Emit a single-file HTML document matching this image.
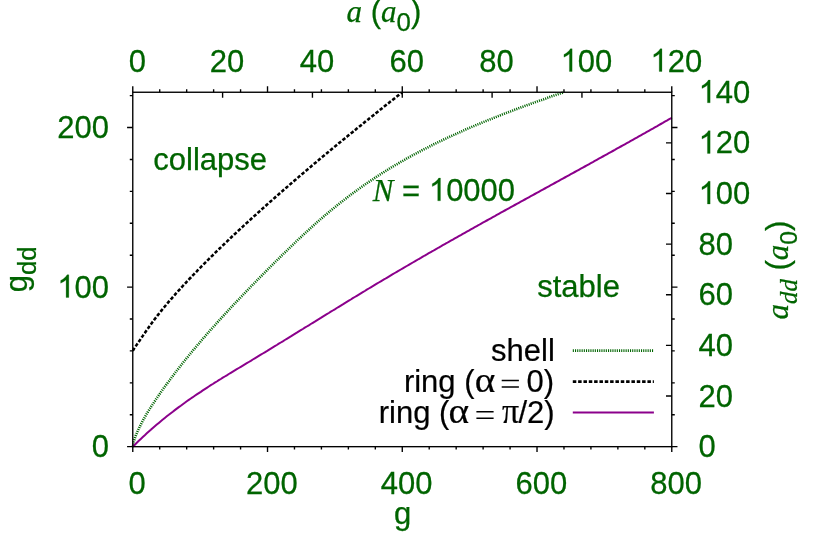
<!DOCTYPE html>
<html><head><meta charset="utf-8"><title>Stability diagram</title>
<style>html,body{margin:0;padding:0;background:#fff}svg{display:block;will-change:transform}</style>
</head><body>
<svg width="830" height="536" viewBox="0 0 830 536">
<rect width="830" height="536" fill="#fff"/>
<path d="M132.8,446.7 L133.8,441.4 L134.8,438.3 L135.8,435.6 L136.8,433.2 L137.8,430.9 L138.8,428.7 L139.8,426.6 L140.8,424.6 L141.8,422.6 L142.8,420.7 L143.8,418.9 L144.8,417.1 L145.8,415.4 L146.8,413.7 L147.8,412.0 L148.8,410.4 L149.8,408.8 L150.8,407.2 L151.8,405.6 L152.8,404.1 L153.8,402.6 L154.8,401.1 L155.8,399.6 L156.8,398.1 L157.8,396.7 L158.8,395.2 L159.8,393.8 L160.8,392.4 L161.8,390.9 L162.8,389.5 L163.8,388.1 L164.8,386.7 L165.8,385.4 L166.8,384.0 L167.8,382.6 L168.8,381.3 L169.8,379.9 L170.8,378.6 L171.8,377.2 L172.8,375.9 L173.8,374.6 L174.8,373.3 L175.8,371.9 L176.8,370.6 L177.8,369.4 L178.8,368.1 L179.8,366.8 L180.8,365.5 L181.8,364.2 L182.8,363.0 L183.8,361.7 L184.8,360.5 L185.8,359.2 L186.8,358.0 L187.8,356.8 L188.8,355.5 L189.8,354.3 L190.8,353.1 L191.8,351.9 L192.8,350.7 L193.8,349.5 L194.8,348.3 L195.8,347.1 L196.8,345.9 L197.8,344.7 L198.8,343.6 L199.8,342.4 L200.8,341.2 L201.8,340.0 L202.8,338.9 L203.8,337.7 L204.8,336.6 L205.8,335.4 L206.8,334.3 L207.8,333.1 L208.8,332.0 L209.8,330.9 L210.8,329.7 L211.8,328.6 L212.8,327.5 L213.8,326.4 L214.8,325.3 L215.8,324.1 L216.8,323.0 L217.8,321.9 L218.8,320.8 L219.8,319.7 L220.8,318.6 L221.8,317.5 L222.8,316.4 L223.8,315.3 L224.8,314.2 L225.8,313.2 L226.8,312.1 L227.8,311.0 L228.8,309.9 L229.8,308.8 L230.8,307.8 L231.8,306.7 L232.8,305.6 L233.8,304.6 L234.8,303.5 L235.8,302.4 L236.8,301.4 L237.8,300.3 L238.8,299.3 L239.8,298.2 L240.8,297.1 L241.8,296.1 L242.8,295.1 L243.8,294.0 L244.8,293.0 L245.8,291.9 L246.8,290.9 L247.8,289.8 L248.8,288.8 L249.8,287.8 L250.8,286.7 L251.8,285.7 L252.8,284.7 L253.8,283.7 L254.8,282.6 L255.8,281.6 L256.8,280.6 L257.8,279.6 L258.8,278.5 L259.8,277.5 L260.8,276.5 L261.8,275.5 L262.8,274.5 L263.8,273.5 L264.8,272.5 L265.8,271.5 L266.8,270.4 L267.8,269.4 L268.8,268.4 L269.8,267.4 L270.8,266.4 L271.8,265.4 L272.8,264.4 L273.8,263.4 L274.8,262.4 L275.8,261.4 L276.8,260.5 L277.8,259.5 L278.8,258.5 L279.8,257.5 L280.8,256.5 L281.8,255.5 L282.8,254.5 L283.8,253.5 L284.8,252.6 L285.8,251.6 L286.8,250.6 L287.8,249.6 L288.8,248.7 L289.8,247.7 L290.8,246.7 L291.8,245.8 L292.8,244.8 L293.8,243.8 L294.8,242.9 L295.8,241.9 L296.8,241.0 L297.8,240.0 L298.8,239.1 L299.8,238.1 L300.8,237.2 L301.8,236.2 L302.8,235.3 L303.8,234.4 L304.8,233.4 L305.8,232.5 L306.8,231.6 L307.8,230.7 L308.8,229.8 L309.8,228.8 L310.8,227.9 L311.8,227.0 L312.8,226.1 L313.8,225.2 L314.8,224.3 L315.8,223.4 L316.8,222.5 L317.8,221.7 L318.8,220.8 L319.8,219.9 L320.8,219.0 L321.8,218.2 L322.8,217.3 L323.8,216.4 L324.8,215.6 L325.8,214.7 L326.8,213.9 L327.8,213.0 L328.8,212.2 L329.8,211.4 L330.8,210.5 L331.8,209.7 L332.8,208.9 L333.8,208.1 L334.8,207.2 L335.8,206.4 L336.8,205.6 L337.8,204.8 L338.8,204.0 L339.8,203.2 L340.8,202.4 L341.8,201.7 L342.8,200.9 L343.8,200.1 L344.8,199.3 L345.8,198.6 L346.8,197.8 L347.8,197.0 L348.8,196.3 L349.8,195.5 L350.8,194.8 L351.8,194.0 L352.8,193.3 L353.8,192.6 L354.8,191.8 L355.8,191.1 L356.8,190.4 L357.8,189.7 L358.8,188.9 L359.8,188.2 L360.8,187.5 L361.8,186.8 L362.8,186.1 L363.8,185.4 L364.8,184.7 L365.8,184.0 L366.8,183.3 L367.8,182.6 L368.8,182.0 L369.8,181.3 L370.8,180.6 L371.8,179.9 L372.8,179.3 L373.8,178.6 L374.8,177.9 L375.8,177.3 L376.8,176.6 L377.8,176.0 L378.8,175.3 L379.8,174.7 L380.8,174.1 L381.8,173.4 L382.8,172.8 L383.8,172.2 L384.8,171.5 L385.8,170.9 L386.8,170.3 L387.8,169.7 L388.8,169.1 L389.8,168.4 L390.8,167.8 L391.8,167.2 L392.8,166.6 L393.8,166.0 L394.8,165.4 L395.8,164.8 L396.8,164.3 L397.8,163.7 L398.8,163.1 L399.8,162.5 L400.8,161.9 L401.8,161.4 L402.8,160.8 L403.8,160.2 L404.8,159.7 L405.8,159.1 L406.8,158.5 L407.8,158.0 L408.8,157.4 L409.8,156.9 L410.8,156.3 L411.8,155.8 L412.8,155.2 L413.8,154.7 L414.8,154.1 L415.8,153.6 L416.8,153.1 L417.8,152.5 L418.8,152.0 L419.8,151.5 L420.8,151.0 L421.8,150.4 L422.8,149.9 L423.8,149.4 L424.8,148.9 L425.8,148.4 L426.8,147.9 L427.8,147.4 L428.8,146.8 L429.8,146.3 L430.8,145.8 L431.8,145.3 L432.8,144.8 L433.8,144.3 L434.8,143.9 L435.8,143.4 L436.8,142.9 L437.8,142.4 L438.8,141.9 L439.8,141.4 L440.8,140.9 L441.8,140.5 L442.8,140.0 L443.8,139.5 L444.8,139.0 L445.8,138.6 L446.8,138.1 L447.8,137.6 L448.8,137.2 L449.8,136.7 L450.8,136.2 L451.8,135.8 L452.8,135.3 L453.8,134.9 L454.8,134.4 L455.8,134.0 L456.8,133.5 L457.8,133.1 L458.8,132.6 L459.8,132.2 L460.8,131.7 L461.8,131.3 L462.8,130.8 L463.8,130.4 L464.8,130.0 L465.8,129.5 L466.8,129.1 L467.8,128.6 L468.8,128.2 L469.8,127.8 L470.8,127.4 L471.8,126.9 L472.8,126.5 L473.8,126.1 L474.8,125.7 L475.8,125.2 L476.8,124.8 L477.8,124.4 L478.8,124.0 L479.8,123.6 L480.8,123.1 L481.8,122.7 L482.8,122.3 L483.8,121.9 L484.8,121.5 L485.8,121.1 L486.8,120.7 L487.8,120.3 L488.8,119.9 L489.8,119.5 L490.8,119.1 L491.8,118.7 L492.8,118.3 L493.8,117.9 L494.8,117.5 L495.8,117.1 L496.8,116.7 L497.8,116.3 L498.8,115.9 L499.8,115.5 L500.8,115.1 L501.8,114.7 L502.8,114.3 L503.8,113.9 L504.8,113.6 L505.8,113.2 L506.8,112.8 L507.8,112.4 L508.8,112.0 L509.8,111.6 L510.8,111.3 L511.8,110.9 L512.8,110.5 L513.8,110.1 L514.8,109.7 L515.8,109.4 L516.8,109.0 L517.8,108.6 L518.8,108.2 L519.8,107.9 L520.8,107.5 L521.8,107.1 L522.8,106.8 L523.8,106.4 L524.8,106.0 L525.8,105.7 L526.8,105.3 L527.8,104.9 L528.8,104.6 L529.8,104.2 L530.8,103.8 L531.8,103.5 L532.8,103.1 L533.8,102.7 L534.8,102.4 L535.8,102.0 L536.8,101.7 L537.8,101.3 L538.8,100.9 L539.8,100.6 L540.8,100.2 L541.8,99.9 L542.8,99.5 L543.8,99.2 L544.8,98.8 L545.8,98.5 L546.8,98.1 L547.8,97.7 L548.8,97.4 L549.8,97.0 L550.8,96.7 L551.8,96.3 L552.8,96.0 L553.8,95.6 L554.8,95.3 L555.8,94.9 L556.8,94.6 L557.8,94.3 L558.8,93.9 L559.8,93.6 L560.8,93.2 L561.8,92.9 L562.8,92.5 L563.4,92.3" fill="none" stroke="#006400" stroke-width="2.6" stroke-dasharray="1.08,1.12"/>
<path d="M132.8,350.9 L133.8,349.1 L134.8,347.6 L135.8,346.1 L136.8,344.6 L137.8,343.2 L138.8,341.7 L139.8,340.3 L140.8,338.8 L141.8,337.3 L142.8,335.9 L143.8,334.4 L144.8,333.0 L145.8,331.5 L146.8,330.1 L147.8,328.7 L148.8,327.2 L149.8,325.8 L150.8,324.4 L151.8,323.1 L152.8,321.7 L153.8,320.4 L154.8,319.0 L155.8,317.7 L156.8,316.4 L157.8,315.1 L158.8,313.9 L159.8,312.6 L160.8,311.4 L161.8,310.1 L162.8,308.9 L163.8,307.7 L164.8,306.5 L165.8,305.3 L166.8,304.1 L167.8,302.9 L168.8,301.7 L169.8,300.6 L170.8,299.4 L171.8,298.3 L172.8,297.1 L173.8,296.0 L174.8,294.9 L175.8,293.7 L176.8,292.6 L177.8,291.5 L178.8,290.4 L179.8,289.3 L180.8,288.2 L181.8,287.1 L182.8,286.0 L183.8,284.9 L184.8,283.9 L185.8,282.8 L186.8,281.7 L187.8,280.7 L188.8,279.6 L189.8,278.5 L190.8,277.5 L191.8,276.4 L192.8,275.4 L193.8,274.4 L194.8,273.3 L195.8,272.3 L196.8,271.3 L197.8,270.2 L198.8,269.2 L199.8,268.2 L200.8,267.2 L201.8,266.1 L202.8,265.1 L203.8,264.1 L204.8,263.1 L205.8,262.1 L206.8,261.1 L207.8,260.1 L208.8,259.1 L209.8,258.1 L210.8,257.1 L211.8,256.1 L212.8,255.2 L213.8,254.2 L214.8,253.2 L215.8,252.2 L216.8,251.2 L217.8,250.3 L218.8,249.3 L219.8,248.3 L220.8,247.4 L221.8,246.4 L222.8,245.4 L223.8,244.5 L224.8,243.5 L225.8,242.5 L226.8,241.6 L227.8,240.6 L228.8,239.7 L229.8,238.7 L230.8,237.8 L231.8,236.8 L232.8,235.9 L233.8,235.0 L234.8,234.0 L235.8,233.1 L236.8,232.1 L237.8,231.2 L238.8,230.3 L239.8,229.4 L240.8,228.4 L241.8,227.5 L242.8,226.6 L243.8,225.6 L244.8,224.7 L245.8,223.8 L246.8,222.9 L247.8,222.0 L248.8,221.0 L249.8,220.1 L250.8,219.2 L251.8,218.3 L252.8,217.4 L253.8,216.5 L254.8,215.6 L255.8,214.7 L256.8,213.8 L257.8,212.9 L258.8,212.0 L259.8,211.1 L260.8,210.2 L261.8,209.3 L262.8,208.4 L263.8,207.5 L264.8,206.6 L265.8,205.7 L266.8,204.8 L267.8,203.9 L268.8,203.0 L269.8,202.1 L270.8,201.2 L271.8,200.4 L272.8,199.5 L273.8,198.6 L274.8,197.7 L275.8,196.8 L276.8,195.9 L277.8,195.1 L278.8,194.2 L279.8,193.3 L280.8,192.4 L281.8,191.6 L282.8,190.7 L283.8,189.8 L284.8,189.0 L285.8,188.1 L286.8,187.2 L287.8,186.4 L288.8,185.5 L289.8,184.6 L290.8,183.8 L291.8,182.9 L292.8,182.0 L293.8,181.2 L294.8,180.3 L295.8,179.5 L296.8,178.6 L297.8,177.7 L298.8,176.9 L299.8,176.0 L300.8,175.2 L301.8,174.3 L302.8,173.5 L303.8,172.6 L304.8,171.8 L305.8,170.9 L306.8,170.1 L307.8,169.2 L308.8,168.4 L309.8,167.5 L310.8,166.7 L311.8,165.8 L312.8,165.0 L313.8,164.1 L314.8,163.3 L315.8,162.5 L316.8,161.6 L317.8,160.8 L318.8,159.9 L319.8,159.1 L320.8,158.3 L321.8,157.4 L322.8,156.6 L323.8,155.8 L324.8,154.9 L325.8,154.1 L326.8,153.3 L327.8,152.4 L328.8,151.6 L329.8,150.8 L330.8,149.9 L331.8,149.1 L332.8,148.3 L333.8,147.5 L334.8,146.6 L335.8,145.8 L336.8,145.0 L337.8,144.2 L338.8,143.3 L339.8,142.5 L340.8,141.7 L341.8,140.9 L342.8,140.0 L343.8,139.2 L344.8,138.4 L345.8,137.6 L346.8,136.8 L347.8,135.9 L348.8,135.1 L349.8,134.3 L350.8,133.5 L351.8,132.7 L352.8,131.9 L353.8,131.1 L354.8,130.2 L355.8,129.4 L356.8,128.6 L357.8,127.8 L358.8,127.0 L359.8,126.2 L360.8,125.4 L361.8,124.6 L362.8,123.8 L363.8,122.9 L364.8,122.1 L365.8,121.3 L366.8,120.5 L367.8,119.7 L368.8,118.9 L369.8,118.1 L370.8,117.3 L371.8,116.5 L372.8,115.7 L373.8,114.9 L374.8,114.1 L375.8,113.3 L376.8,112.5 L377.8,111.7 L378.8,110.9 L379.8,110.1 L380.8,109.3 L381.8,108.5 L382.8,107.7 L383.8,106.9 L384.8,106.1 L385.8,105.3 L386.8,104.5 L387.8,103.7 L388.8,102.9 L389.8,102.1 L390.8,101.3 L391.8,100.6 L392.8,99.8 L393.8,99.0 L394.8,98.2 L395.8,97.4 L396.8,96.6 L397.8,95.8 L398.8,95.0 L399.8,94.2 L400.8,93.4 L401.8,92.7 L401.8,92.6" fill="none" stroke="#000" stroke-width="2.55" stroke-dasharray="3.5,1.83"/>
<path d="M132.8,446.7 L134.8,444.7 L136.8,442.7 L138.8,440.8 L140.8,438.9 L142.8,437.0 L144.8,435.2 L146.8,433.3 L148.8,431.5 L150.8,429.8 L152.8,428.0 L154.8,426.3 L156.8,424.6 L158.8,422.9 L160.8,421.2 L162.8,419.6 L164.8,417.9 L166.8,416.3 L168.8,414.8 L170.8,413.2 L172.8,411.7 L174.8,410.1 L176.8,408.6 L178.8,407.1 L180.8,405.7 L182.8,404.2 L184.8,402.8 L186.8,401.3 L188.8,399.9 L190.8,398.5 L192.8,397.2 L194.8,395.8 L196.8,394.4 L198.8,393.1 L200.8,391.8 L202.8,390.4 L204.8,389.1 L206.8,387.8 L208.8,386.5 L210.8,385.2 L212.8,384.0 L214.8,382.7 L216.8,381.5 L218.8,380.2 L220.8,379.0 L222.8,377.7 L224.8,376.5 L226.8,375.3 L228.8,374.0 L230.8,372.8 L232.8,371.6 L234.8,370.4 L236.8,369.2 L238.8,368.0 L240.8,366.8 L242.8,365.6 L244.8,364.4 L246.8,363.2 L248.8,362.0 L250.8,360.8 L252.8,359.5 L254.8,358.3 L256.8,357.1 L258.8,355.9 L260.8,354.7 L262.8,353.5 L264.8,352.3 L266.8,351.1 L268.8,349.8 L270.8,348.6 L272.8,347.4 L274.8,346.2 L276.8,345.0 L278.8,343.7 L280.8,342.5 L282.8,341.3 L284.8,340.0 L286.8,338.8 L288.8,337.6 L290.8,336.4 L292.8,335.1 L294.8,333.9 L296.8,332.7 L298.8,331.4 L300.8,330.2 L302.8,329.0 L304.8,327.7 L306.8,326.5 L308.8,325.3 L310.8,324.0 L312.8,322.8 L314.8,321.6 L316.8,320.3 L318.8,319.1 L320.8,317.9 L322.8,316.6 L324.8,315.4 L326.8,314.2 L328.8,313.0 L330.8,311.7 L332.8,310.5 L334.8,309.3 L336.8,308.0 L338.8,306.8 L340.8,305.6 L342.8,304.4 L344.8,303.1 L346.8,301.9 L348.8,300.7 L350.8,299.5 L352.8,298.2 L354.8,297.0 L356.8,295.8 L358.8,294.6 L360.8,293.4 L362.8,292.2 L364.8,291.0 L366.8,289.7 L368.8,288.5 L370.8,287.3 L372.8,286.1 L374.8,284.9 L376.8,283.7 L378.8,282.5 L380.8,281.3 L382.8,280.1 L384.8,279.0 L386.8,277.8 L388.8,276.6 L390.8,275.4 L392.8,274.2 L394.8,273.0 L396.8,271.8 L398.8,270.7 L400.8,269.5 L402.8,268.3 L404.8,267.2 L406.8,266.0 L408.8,264.8 L410.8,263.7 L412.8,262.5 L414.8,261.3 L416.8,260.2 L418.8,259.0 L420.8,257.9 L422.8,256.7 L424.8,255.5 L426.8,254.4 L428.8,253.2 L430.8,252.1 L432.8,251.0 L434.8,249.8 L436.8,248.7 L438.8,247.5 L440.8,246.4 L442.8,245.2 L444.8,244.1 L446.8,243.0 L448.8,241.8 L450.8,240.7 L452.8,239.6 L454.8,238.4 L456.8,237.3 L458.8,236.2 L460.8,235.1 L462.8,233.9 L464.8,232.8 L466.8,231.7 L468.8,230.6 L470.8,229.4 L472.8,228.3 L474.8,227.2 L476.8,226.1 L478.8,225.0 L480.8,223.8 L482.8,222.7 L484.8,221.6 L486.8,220.5 L488.8,219.4 L490.8,218.3 L492.8,217.2 L494.8,216.1 L496.8,214.9 L498.8,213.8 L500.8,212.7 L502.8,211.6 L504.8,210.5 L506.8,209.4 L508.8,208.3 L510.8,207.2 L512.8,206.1 L514.8,205.0 L516.8,203.9 L518.8,202.8 L520.8,201.7 L522.8,200.6 L524.8,199.5 L526.8,198.4 L528.8,197.3 L530.8,196.2 L532.8,195.1 L534.8,194.0 L536.8,192.9 L538.8,191.8 L540.8,190.7 L542.8,189.6 L544.8,188.5 L546.8,187.4 L548.8,186.3 L550.8,185.2 L552.8,184.1 L554.8,183.0 L556.8,181.9 L558.8,180.8 L560.8,179.7 L562.8,178.6 L564.8,177.5 L566.8,176.4 L568.8,175.3 L570.8,174.2 L572.8,173.1 L574.8,172.0 L576.8,170.9 L578.8,169.8 L580.8,168.7 L582.8,167.6 L584.8,166.5 L586.8,165.4 L588.8,164.3 L590.8,163.2 L592.8,162.1 L594.8,160.9 L596.8,159.8 L598.8,158.7 L600.8,157.6 L602.8,156.5 L604.8,155.4 L606.8,154.3 L608.8,153.2 L610.8,152.1 L612.8,151.0 L614.8,149.9 L616.8,148.7 L618.8,147.6 L620.8,146.5 L622.8,145.4 L624.8,144.3 L626.8,143.2 L628.8,142.1 L630.8,140.9 L632.8,139.8 L634.8,138.7 L636.8,137.6 L638.8,136.4 L640.8,135.3 L642.8,134.2 L644.8,133.1 L646.8,131.9 L648.8,130.8 L650.8,129.7 L652.8,128.6 L654.8,127.4 L656.8,126.3 L658.8,125.1 L660.8,124.0 L662.8,122.9 L664.8,121.7 L666.8,120.6 L668.8,119.4 L670.8,118.3 L671.8,117.7" fill="none" stroke="#8b008b" stroke-width="2"/>
<g stroke="#000" stroke-width="1.37" fill="none">
<rect x="132.77" y="92.25" width="539.0" height="354.42"/>
<path d="M132.77,446.67 v5.4 M132.77,92.25 v-5.9 M159.72,446.67 v2.9 M159.72,92.25 v-3.1 M186.67,446.67 v2.9 M186.67,92.25 v-3.1 M213.62,446.67 v2.9 M213.62,92.25 v-3.1 M240.57,446.67 v2.9 M240.57,92.25 v-3.1 M267.52,446.67 v5.4 M267.52,92.25 v-5.9 M294.47,446.67 v2.9 M294.47,92.25 v-3.1 M321.42,446.67 v2.9 M321.42,92.25 v-3.1 M348.37,446.67 v2.9 M348.37,92.25 v-3.1 M375.32,446.67 v2.9 M375.32,92.25 v-3.1 M402.27,446.67 v5.4 M402.27,92.25 v-5.9 M429.22,446.67 v2.9 M429.22,92.25 v-3.1 M456.17,446.67 v2.9 M456.17,92.25 v-3.1 M483.12,446.67 v2.9 M483.12,92.25 v-3.1 M510.07,446.67 v2.9 M510.07,92.25 v-3.1 M537.02,446.67 v5.4 M537.02,92.25 v-5.9 M563.97,446.67 v2.9 M563.97,92.25 v-3.1 M590.92,446.67 v2.9 M590.92,92.25 v-3.1 M617.87,446.67 v2.9 M617.87,92.25 v-3.1 M644.82,446.67 v2.9 M644.82,92.25 v-3.1 M671.77,446.67 v5.4 M671.77,92.25 v-5.9 M132.77,446.67 h-5.7 M671.77,446.67 h5.7 M132.77,414.76 h-3.0 M671.77,414.76 h3.0 M132.77,382.85 h-3.0 M671.77,382.85 h3.0 M132.77,350.93 h-3.0 M671.77,350.93 h3.0 M132.77,319.02 h-3.0 M671.77,319.02 h3.0 M132.77,287.11 h-5.7 M671.77,287.11 h5.7 M132.77,255.20 h-3.0 M671.77,255.20 h3.0 M132.77,223.29 h-3.0 M671.77,223.29 h3.0 M132.77,191.37 h-3.0 M671.77,191.37 h3.0 M132.77,159.46 h-3.0 M671.77,159.46 h3.0 M132.77,127.55 h-5.7 M671.77,127.55 h5.7 M132.77,95.64 h-3.0 M671.77,95.64 h3.0 M222.60,92.25 v5.6 M312.44,92.25 v5.6 M402.27,92.25 v5.6 M492.10,92.25 v5.6 M581.94,92.25 v5.6 M671.77,396.04 h-5.8 M671.77,345.41 h-5.8 M671.77,294.78 h-5.8 M671.77,244.14 h-5.8 M671.77,193.51 h-5.8 M671.77,142.88 h-5.8"/>
</g>
<g font-family="Liberation Sans, sans-serif" font-size="31" fill="#006400" stroke="#006400" stroke-width="0.25">
<text transform="translate(128.65,71.50) scale(1,1.02)">0</text>
<text transform="translate(209.86,71.50) scale(1,1.02)">20</text>
<text transform="translate(299.70,71.50) scale(1,1.02)">40</text>
<text transform="translate(389.53,71.50) scale(1,1.02)">60</text>
<text transform="translate(479.36,71.50) scale(1,1.02)">80</text>
<path transform="translate(560.58,71.50) scale(0.015137,-0.015439)" d="M763,0 L583,0 L583,1147 Q518,1085 412.5,1023 Q307,961 223,930 L223,1104 Q374,1175 487,1276 Q600,1377 647,1472 L763,1472 Z" stroke-width="16.5"/><text transform="translate(577.82,71.50) scale(1,1.02)">00</text>
<path transform="translate(650.41,71.50) scale(0.015137,-0.015439)" d="M763,0 L583,0 L583,1147 Q518,1085 412.5,1023 Q307,961 223,930 L223,1104 Q374,1175 487,1276 Q600,1377 647,1472 L763,1472 Z" stroke-width="16.5"/><text transform="translate(667.65,71.50) scale(1,1.02)">20</text>
<text transform="translate(128.45,493.50) scale(1,1.02)">0</text>
<text transform="translate(245.96,493.50) scale(1,1.02)">200</text>
<text transform="translate(380.71,493.50) scale(1,1.02)">400</text>
<text transform="translate(515.46,493.50) scale(1,1.02)">600</text>
<text transform="translate(650.21,493.50) scale(1,1.02)">800</text>
<text transform="translate(91.76,457.07) scale(1,1.02)">0</text>
<path transform="translate(57.28,297.51) scale(0.015137,-0.015439)" d="M763,0 L583,0 L583,1147 Q518,1085 412.5,1023 Q307,961 223,930 L223,1104 Q374,1175 487,1276 Q600,1377 647,1472 L763,1472 Z" stroke-width="16.5"/><text transform="translate(74.52,297.51) scale(1,1.02)">00</text>
<text transform="translate(57.28,137.95) scale(1,1.02)">200</text>
<text transform="translate(698.60,457.17) scale(1,1.02)">0</text>
<text transform="translate(698.60,406.54) scale(1,1.02)">20</text>
<text transform="translate(698.60,355.91) scale(1,1.02)">40</text>
<text transform="translate(698.60,305.28) scale(1,1.02)">60</text>
<text transform="translate(698.60,254.64) scale(1,1.02)">80</text>
<path transform="translate(698.60,204.01) scale(0.015137,-0.015439)" d="M763,0 L583,0 L583,1147 Q518,1085 412.5,1023 Q307,961 223,930 L223,1104 Q374,1175 487,1276 Q600,1377 647,1472 L763,1472 Z" stroke-width="16.5"/><text transform="translate(715.84,204.01) scale(1,1.02)">00</text>
<path transform="translate(698.60,153.38) scale(0.015137,-0.015439)" d="M763,0 L583,0 L583,1147 Q518,1085 412.5,1023 Q307,961 223,930 L223,1104 Q374,1175 487,1276 Q600,1377 647,1472 L763,1472 Z" stroke-width="16.5"/><text transform="translate(715.84,153.38) scale(1,1.02)">20</text>
<path transform="translate(698.60,102.75) scale(0.015137,-0.015439)" d="M763,0 L583,0 L583,1147 Q518,1085 412.5,1023 Q307,961 223,930 L223,1104 Q374,1175 487,1276 Q600,1377 647,1472 L763,1472 Z" stroke-width="16.5"/><text transform="translate(715.84,102.75) scale(1,1.02)">40</text>
<text x="393.9" y="524.4">g</text>
<text x="153.3" y="169.6">collapse</text>
<text x="537.2" y="296.9">stable</text>
<text x="372.7" y="200.8"><tspan font-family="Liberation Serif, serif" font-style="italic">N</tspan> =</text>
<path transform="translate(428.90,200.80) scale(0.015137,-0.015439)" d="M763,0 L583,0 L583,1147 Q518,1085 412.5,1023 Q307,961 223,930 L223,1104 Q374,1175 487,1276 Q600,1377 647,1472 L763,1472 Z" stroke-width="16.5"/><text transform="translate(446.14,200.80) scale(1,1.02)">0000</text>
<text x="346.6" y="21.7"><tspan font-family="Liberation Serif, serif" font-style="italic">a</tspan> (<tspan font-family="Liberation Serif, serif" font-style="italic">a</tspan><tspan font-size="25.8" dy="9.3">0</tspan><tspan dy="-9.3">)</tspan></text>
<text transform="translate(26.6,292.3) rotate(-90)">g<tspan font-size="25.8" dy="9.2">dd</tspan></text>
<text transform="translate(787.8,319.5) rotate(-90)"><tspan font-family="Liberation Serif, serif" font-style="italic">a</tspan><tspan font-family="Liberation Serif, serif" font-style="italic" font-size="24.8" dy="9.6">dd</tspan><tspan dy="-9.6"> (</tspan><tspan font-family="Liberation Serif, serif" font-style="italic">a</tspan><tspan font-size="24.8" dy="9.6">0</tspan><tspan dy="-9.6">)</tspan></text>
</g>
<g font-family="Liberation Sans, sans-serif" font-size="31" fill="#000" stroke="#000" stroke-width="0.2">
<text x="554.8" y="360.5" text-anchor="end">shell</text>
<text x="403.9" y="391.7">ring (</text>
<text transform="translate(474.8,391.7) scale(1.11,1)" font-family="Liberation Serif, serif" font-size="35.4">α</text>
<path d="M501.7,380.5 h17.2 M501.7,387.0 h17.2" stroke="#000" stroke-width="1.5" fill="none"/>
<text x="526.6" y="391.7">0)</text>
<text x="378.7" y="422.9">ring (</text>
<text transform="translate(448.6,422.9) scale(1.11,1)" font-family="Liberation Serif, serif" font-size="35.4">α</text>
<path d="M476.4,411.7 h17.2 M476.4,418.2 h17.2" stroke="#000" stroke-width="1.5" fill="none"/>
<text transform="translate(502.0,422.9) scale(0.96,1)" font-family="Liberation Serif, serif" font-size="35.3">π</text>
<text x="518.4" y="422.9">/2)</text>
</g>
<path d="M572.8,350.6 H653.9" stroke="#006400" stroke-width="2.6" stroke-dasharray="1.08,1.12"/>
<path d="M572.8,381.6 H653.9" stroke="#000" stroke-width="2.55" stroke-dasharray="3.5,1.83"/>
<path d="M572.8,412.6 H653.9" stroke="#8b008b" stroke-width="2"/>
</svg>
</body></html>
